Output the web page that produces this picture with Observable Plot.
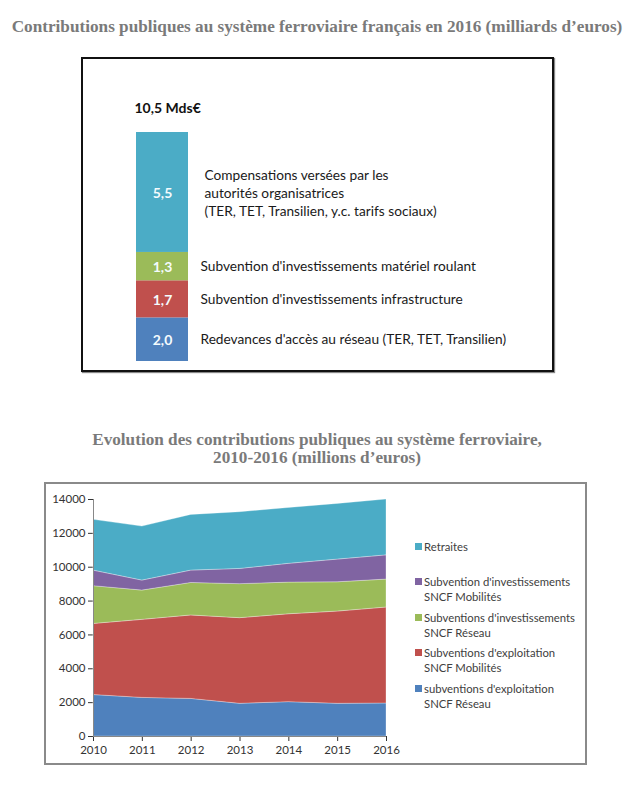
<!DOCTYPE html>
<html><head><meta charset="utf-8">
<script src="https://cdn.jsdelivr.net/npm/d3@7"></script>
<script src="https://cdn.jsdelivr.net/npm/@observablehq/plot@0.6"></script>
<style>
body{margin:0;background:#fff;width:634px;height:788px;position:relative;overflow:hidden;font-family:Lato,sans-serif;}
.title{position:absolute;left:0;width:634px;text-align:center;font-family:"Liberation Serif",serif;font-weight:bold;color:#7a7a7a;font-size:17.2px;line-height:18px;}
#box1{position:absolute;left:81px;top:57px;width:469px;height:311px;border:2px solid #111;box-shadow:1px 1px 1px #888;}
#box2{position:absolute;left:44px;top:482px;width:539px;height:279px;border:2px solid #8a8a8a;}
#box1 svg,#box2 svg{position:absolute;left:0;top:0;}
.leg{position:absolute;font-size:11.3px;color:#404040;line-height:15px;white-space:pre;}
.leg i{position:absolute;left:-9px;top:4px;width:7px;height:7px;}
</style></head>
<body>
<div class="title" style="top:18px">Contributions publiques au système ferroviaire français en 2016 (milliards d’euros)</div>
<div id="box1"></div>
<div class="title" style="top:431px">Evolution des contributions publiques au système ferroviaire,<br>2010-2016 (millions d’euros)</div>
<div id="box2"></div>
<script>
// ---- Chart 1 data (2016, milliards d'euros) ----
const cat2016 = ["Redevances", "Infrastructure", "Matériel roulant", "Compensations"];
const values2016 = [2.0, 1.7, 1.3, 5.5];
const valueLabels2016 = ["2,0", "1,7", "1,3", "5,5"];
const descriptions2016 = [
  "Redevances d'accès au réseau (TER, TET, Transilien)",
  "Subvention d'investissements infrastructure",
  "Subvention d'investissements matériel roulant",
  "Compensations versées par les\nautorités organisatrices\n(TER, TET, Transilien, y.c. tarifs sociaux)"
];
const colors2016 = ["#4F81BD", "#C0504D", "#9BBB59", "#4BACC6"];
const total2016 = 10.5;
const totalLabel2016 = "10,5 Mds€";

// ---- Chart 2 data (millions d'euros) ----
const years = [2010, 2011, 2012, 2013, 2014, 2015, 2016];
const exploitReseau   = [2450, 2280, 2220, 1930, 2030, 1930, 1950];
const exploitMobilites= [4200, 4610, 4930, 5060, 5190, 5450, 5670];
const investReseau    = [2230, 1730, 1920, 2010, 1870, 1730, 1650];
const investMobilites = [920, 590, 730, 900, 1110, 1340, 1430];
const retraites       = [3000, 3190, 3290, 3350, 3300, 3290, 3300];
const seriesNames = [
  "subventions d'exploitation\nSNCF Réseau",
  "Subventions d'exploitation\nSNCF Mobilités",
  "Subventions d'investissements\nSNCF Réseau",
  "Subvention d'investissements\nSNCF Mobilités",
  "Retraites"
];
const seriesColors = ["#4F81BD", "#C0504D", "#9BBB59", "#8064A2", "#4BACC6"];
const yTicks = [0, 2000, 4000, 6000, 8000, 10000, 12000, 14000];

// ---- Chart 1 ----
const d1 = cat2016.map((c, i) => ({cat: c, x: "2016", value: values2016[i], label: valueLabels2016[i], desc: descriptions2016[i]}));
const stackOpts = {x: "x", y: "value", z: "cat", order: cat2016};
const p1 = Plot.plot({
  width: 469, height: 311,
  marginLeft: 53, marginRight: 364, marginTop: 73, marginBottom: 9,
  x: {type: "band", domain: ["2016"], padding: 0, axis: null},
  y: {domain: [0, total2016], axis: null},
  color: {domain: cat2016, range: colors2016},
  style: {fontFamily: "Lato, sans-serif", fontSize: "13.7px", background: "transparent"},
  marks: [
    Plot.barY(d1, Plot.stackY({...stackOpts, fill: "cat"})),
    Plot.text(d1, Plot.stackY({...stackOpts, text: "label", fill: "#f4fbfd", fontWeight: "bold", fontSize: 14, dy: 1})),
    Plot.text(d1, Plot.stackY({...stackOpts, text: (d) => d.cat === "Compensations" ? "" : d.desc, fill: "#1a1a1a", textAnchor: "start", dx: 38})),
    Plot.text(d1, Plot.stackY({...stackOpts, text: (d) => d.cat === "Compensations" ? d.desc : "", fill: "#1a1a1a", textAnchor: "start", dx: 42, lineHeight: 1.31})),
    Plot.text([total2016], {x: () => "2016", y: (d) => d, text: () => totalLabel2016, textAnchor: "start", dx: -28, dy: -24, fontWeight: "bold", fontSize: 14, fill: "#111"})
  ]
});
document.getElementById("box1").appendChild(p1);

// ---- Chart 2 ----
const cols = [exploitReseau, exploitMobilites, investReseau, investMobilites, retraites];
const d2 = [];
seriesNames.forEach((s, i) => years.forEach((y, j) => d2.push({series: s, year: y, value: cols[i][j]})));
const p2 = Plot.plot({
  width: 360, height: 279,
  marginLeft: 47, marginRight: 20, marginTop: 15, marginBottom: 27,
  x: {domain: [2010, 2016], ticks: years, tickFormat: "d", tickSize: 5, tickPadding: 4, label: null},
  y: {domain: [0, 14000], ticks: yTicks, tickFormat: "d", tickSize: 5, tickPadding: 3, label: null},
  color: {domain: seriesNames, range: seriesColors},
  style: {fontFamily: "Lato, sans-serif", fontSize: "11.5px", color: "#333", background: "transparent"},
  marks: [
    Plot.areaY(d2, {x: "year", y: "value", fill: "series", z: "series", order: seriesNames, stroke: "white", strokeOpacity: 0.5, strokeWidth: 0.6}),
    Plot.ruleY([0], {stroke: "#888"}),
    Plot.ruleX([2010], {stroke: "#888"})
  ]
});
document.getElementById("box2").appendChild(p2);

// legend (top to bottom = reverse stack order)
const legTops = [539, 574, 610, 645, 681];
seriesNames.slice().reverse().forEach((s, i) => {
  const div = document.createElement("div");
  div.className = "leg";
  div.style.left = (424 - 46) + "px";
  div.style.top = (legTops[i] - 484) + "px";
  div.textContent = s;
  const sw = document.createElement("i");
  sw.style.background = seriesColors[seriesNames.length - 1 - i];
  div.appendChild(sw);
  document.getElementById("box2").appendChild(div);
});
</script>
</body></html>
